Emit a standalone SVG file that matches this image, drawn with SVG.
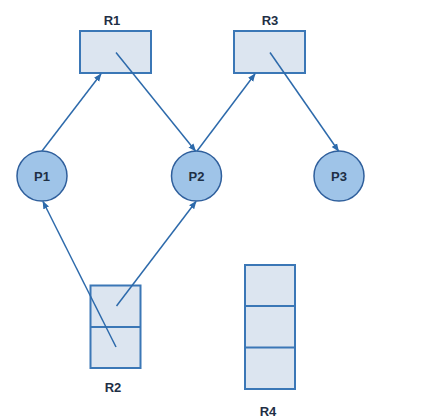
<svg xmlns="http://www.w3.org/2000/svg" width="427" height="419" viewBox="0 0 427 419">
<defs>
<style>
.res{fill:#dce5f0;stroke:#3b77b6;stroke-width:2}
.div{stroke:#3b77b6;stroke-width:2;fill:none}
.proc{fill:#9fc4e8;stroke:#2f5f9c;stroke-width:1.5}
.lbl{font-family:"Liberation Sans",Arial,sans-serif;font-size:13px;font-weight:bold;fill:#1e2f45;text-anchor:middle}
.edge{stroke:#2d6aab;stroke-width:1.5;fill:none;marker-end:url(#arr)}
</style>
<marker id="arr" viewBox="0 0 10 10" refX="9" refY="5" markerWidth="8" markerHeight="8" orient="auto" markerUnits="userSpaceOnUse">
<path d="M0,1 L10,5 L0,9 Z" fill="#2d6aab"/>
</marker>
</defs>
<rect width="427" height="419" fill="#ffffff"/>
<g id="R1">
<rect class="res" x="80" y="31" width="71" height="42"/>
<text class="lbl" x="112" y="25">R1</text>
</g>
<g id="R3">
<rect class="res" x="234" y="31" width="71" height="42"/>
<text class="lbl" x="270" y="25">R3</text>
</g>
<g id="P1">
<circle class="proc" cx="42" cy="176" r="25"/>
<text class="lbl" x="42" y="181">P1</text>
</g>
<g id="P2">
<circle class="proc" cx="196.5" cy="176" r="25"/>
<text class="lbl" x="196.5" y="181">P2</text>
</g>
<g id="P3">
<circle class="proc" cx="339" cy="176" r="25"/>
<text class="lbl" x="339" y="181">P3</text>
</g>
<g id="R2">
<rect class="res" x="90.5" y="285.5" width="50" height="82.5"/>
<line class="div" x1="90.5" y1="327" x2="140.5" y2="327"/>
<text class="lbl" x="113" y="392">R2</text>
</g>
<g id="R4">
<rect class="res" x="245" y="265" width="50" height="124"/>
<line class="div" x1="245" y1="306" x2="295" y2="306"/>
<line class="div" x1="245" y1="347.5" x2="295" y2="347.5"/>
<text class="lbl" x="268" y="416">R4</text>
</g>
<g id="connectors">
<line class="edge" x1="42" y1="151" x2="101" y2="74"/>
<line class="edge" x1="116" y1="52.5" x2="195.5" y2="151"/>
<line class="edge" x1="197" y1="151" x2="255" y2="74"/>
<line class="edge" x1="270" y1="52.5" x2="338.5" y2="151"/>
<line class="edge" x1="116" y1="347" x2="43" y2="201.5"/>
<line class="edge" x1="116.5" y1="306" x2="196" y2="201.5"/>
</g>
</svg>
